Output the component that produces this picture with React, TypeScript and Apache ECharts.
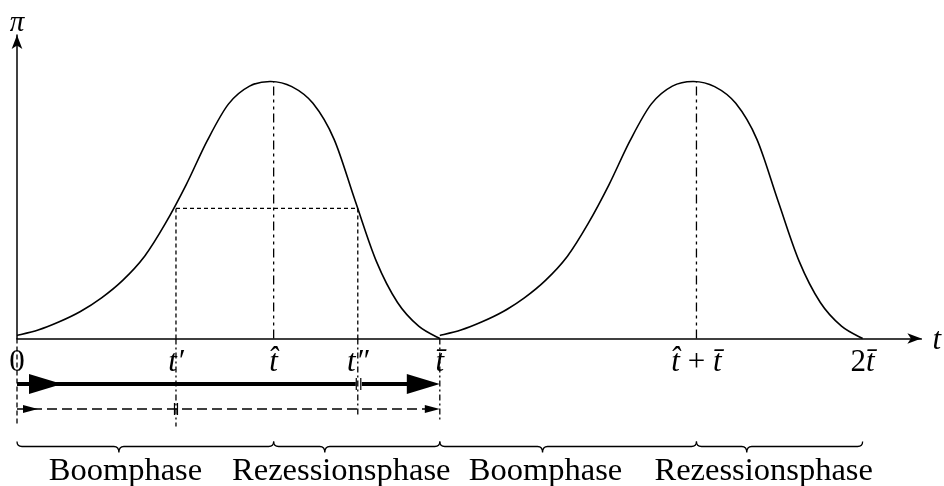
import React, { useEffect, useRef } from "react";
import * as echarts from "echarts";

// one business cycle, phase u in units of t̄, profit share π normalised to the peak
const phaseU = [0, 0.05, 0.1, 0.15, 0.2, 0.25, 0.3, 0.35, 0.4, 0.45, 0.5, 0.55, 0.6, 0.65, 0.7, 0.75, 0.8, 0.85, 0.9, 0.95, 1.0];
const profitPi = [0.012, 0.033, 0.065, 0.105, 0.158, 0.226, 0.316, 0.445, 0.598, 0.77, 0.912, 0.982, 1.0, 0.98, 0.915, 0.775, 0.535, 0.3, 0.14, 0.048, 0];
const cycleOffsets = [0, 1];

const tBar = 1;
const tHat = 0.607;
const tPrime = 0.376;
const tDPrime = 0.806;
const halfLevel = 0.506;
const piMax = 1.0;

const tickValues = [0, tPrime, tHat, tDPrime, tBar, tHat + tBar, 2 * tBar];
const tickLabels = ["{r|0}", "{i|t′}", "{i|t̂}", "{i|t″}", "{i|t̄}", "{i|t̂}{r| + }{i|t̄}", "{r|2}{i|t̄}"];

const phaseNames = ["Boomphase", "Rezessionsphase", "Boomphase", "Rezessionsphase"];
const braceStarts = [0, tHat, tBar, tBar + tHat];
const braceEnds = [tHat, tBar, tBar + tHat, 2 * tBar];
const braceTips = [0.241, 0.728, 1.243, 1.726];
const phaseLabelCenters = [0.2565, 0.767, 1.25, 1.766];

const X_MAX = 2.139;
const Y_MAX = 1.181;
const FONT = "Liberation Serif";

export default function App() {
  const ref = useRef<HTMLDivElement>(null);

  useEffect(() => {
    if (!ref.current) return;
    const chart = echarts.init(ref.current, undefined, { renderer: "svg" });

    // each cycle is one data row: [offset]
    const cycleData = cycleOffsets.map((o) => [o, 0]);

    const renderCurve = (params: any, api: any) => {
      const off = api.value(0);
      const pts = phaseU.map((u, i) => api.coord([u + off, profitPi[i]]));
      const n = pts.length;
      let d = `M${pts[0][0]},${pts[0][1]}`;
      for (let i = 0; i < n - 1; i++) {
        const p0 = pts[Math.max(0, i - 1)];
        const p1 = pts[i];
        const p2 = pts[i + 1];
        const p3 = pts[Math.min(n - 1, i + 2)];
        const c1x = p1[0] + (p2[0] - p0[0]) / 6;
        const c1y = p1[1] + (p2[1] - p0[1]) / 6;
        const c2x = p2[0] - (p3[0] - p1[0]) / 6;
        const c2y = p2[1] - (p3[1] - p1[1]) / 6;
        d += ` C${c1x},${c1y} ${c2x},${c2y} ${p2[0]},${p2[1]}`;
      }
      return { type: "path", shape: { pathData: d }, style: { stroke: "#000", lineWidth: 1.6, fill: null } };
    };

    const dashDot = [9, 4, 3, 4, 3, 4];
    const dashed = [4, 3];
    const refLine = (data: number[][], type: any) => ({
      type: "line",
      data,
      symbol: "none",
      silent: true,
      lineStyle: { color: "#000", width: 1.3, type },
      z: 1,
    });

    const renderItem = (params: any, api: any) => {
      const P = (u: number, v: number) => api.coord([u, v]);
      const y0 = P(0, 0)[1];
      const X = (u: number) => P(u, 0)[0];
      const ch: any[] = [];
      const line = (x1: number, y1: number, x2: number, y2: number, w: number, dash?: number[]) =>
        ch.push({ type: "line", shape: { x1, y1, x2, y2 }, style: { stroke: "#000", lineWidth: w, lineDash: dash || null, fill: null } });
      const tri = (tipX: number, baseX: number, y: number, h: number) =>
        ch.push({ type: "polygon", shape: { points: [[tipX, y], [baseX, y - h], [baseX, y + h]] }, style: { fill: "#000" } });

      // vertical guides below the axis
      line(X(0), y0, X(0), y0 + 87, 1.3, [5, 3]);
      line(X(tPrime), y0, X(tPrime), y0 + 88, 1.3, [6, 3, 2, 3]);
      line(X(tDPrime), y0, X(tDPrime), y0 + 79, 1.3, [6, 3, 2, 3]);
      line(X(tBar), y0, X(tBar), y0 + 83, 1.3, [6, 3, 2, 3]);

      // thick arrow (full cycle)
      const ya = y0 + 45.5;
      line(X(0), ya, X(tDPrime) - 2, ya, 3.8);
      line(X(tDPrime) + 4, ya, X(tBar) - 25, ya, 3.8);
      line(X(tDPrime) - 1.5, ya - 6, X(tDPrime) - 1.5, ya + 6, 1.2);
      line(X(tDPrime) + 3, ya - 6, X(tDPrime) + 3, ya + 6, 1.2);
      tri(X(0) + 45, X(0) + 12, ya, 10);
      tri(X(tBar), X(tBar) - 33, ya, 10);

      // dashed arrow
      const yb = y0 + 70.5;
      line(X(0), yb, X(tBar) - 10, yb, 1.5, [10, 5]);
      line(X(tPrime) - 1.5, yb - 6, X(tPrime) - 1.5, yb + 6, 1.2);
      line(X(tPrime) + 1.5, yb - 6, X(tPrime) + 1.5, yb + 6, 1.2);
      tri(X(0) + 21, X(0) + 6, yb, 4);
      tri(X(tBar), X(tBar) - 15, yb, 4);

      // braces + phase labels
      const yT = y0 + 103;
      const yH = y0 + 108;
      const yTip = y0 + 114;
      const r = 5;
      braceStarts.forEach((s, k) => {
        const xa = X(s);
        const xb = X(braceEnds[k]);
        const xt = X(braceTips[k]);
        const d =
          `M${xa},${yT} Q${xa},${yH} ${xa + r},${yH} L${xt - r},${yH} Q${xt},${yH} ${xt},${yTip} ` +
          `Q${xt},${yH} ${xt + r},${yH} L${xb - r},${yH} Q${xb},${yH} ${xb},${yT}`;
        ch.push({ type: "path", shape: { pathData: d }, style: { stroke: "#000", lineWidth: 1.3, fill: null } });
        ch.push({
          type: "text",
          x: X(phaseLabelCenters[k]),
          y: y0 + 130,
          style: { text: phaseNames[k], fill: "#000", fontSize: 32.5, fontFamily: FONT, align: "center", verticalAlign: "middle" },
        });
      });
      return { type: "group", children: ch };
    };

    const rich = {
      r: { fontFamily: FONT, fontSize: 31, color: "#000" },
      i: { fontFamily: FONT, fontSize: 31, fontStyle: "italic", color: "#000" },
    };

    chart.setOption({
      animation: false,
      grid: { left: 17, right: 22, top: 35, bottom: 147.5 },
      xAxis: {
        type: "value",
        min: 0,
        max: X_MAX,
        name: "t",
        nameLocation: "end",
        nameGap: 11,
        nameTextStyle: { fontFamily: FONT, fontSize: 31, fontStyle: "italic", color: "#000" },
        axisLine: { show: true, symbol: ["none", "arrow"], symbolSize: [8, 14], lineStyle: { color: "#000", width: 1.5 } },
        axisTick: { show: false },
        splitLine: { show: false },
        axisLabel: {
          customValues: tickValues,
          margin: 6,
          verticalAlign: "top",
          rich,
          formatter: (v: number) => {
            const k = tickValues.findIndex((t) => Math.abs(t - v) < 1e-6);
            return k >= 0 ? tickLabels[k] : "";
          },
        },
      },
      yAxis: {
        type: "value",
        min: 0,
        max: Y_MAX,
        name: "π",
        nameLocation: "end",
        nameGap: 2,
        nameTextStyle: { fontFamily: FONT, fontSize: 29, lineHeight: 24, fontStyle: "italic", color: "#000", align: "center" },
        axisLine: { show: true, symbol: ["none", "arrow"], symbolSize: [8, 14], lineStyle: { color: "#000", width: 1.5 } },
        axisTick: { show: false },
        axisLabel: { show: false },
        splitLine: { show: false },
      },
      series: [
        {
          type: "custom",
          coordinateSystem: "cartesian2d",
          data: cycleData,
          renderItem: renderCurve,
          silent: true,
          clip: false,
          z: 3,
        },
        refLine([[tHat, 0], [tHat, piMax]], dashDot),
        refLine([[tHat + tBar, 0], [tHat + tBar, piMax]], dashDot),
        refLine([[tPrime, halfLevel], [tDPrime, halfLevel]], dashed),
        refLine([[tPrime, halfLevel], [tPrime, 0]], dashed),
        refLine([[tDPrime, halfLevel], [tDPrime, 0]], dashed),
        {
          type: "custom",
          coordinateSystem: "cartesian2d",
          data: [[0, 0]],
          renderItem,
          silent: true,
          clip: false,
          z: 4,
        },
      ],
    });

    return () => chart.dispose();
  }, []);

  return <div ref={ref} style={{ position: "fixed", left: 0, top: 0, width: 944, height: 486 }} />;
}
